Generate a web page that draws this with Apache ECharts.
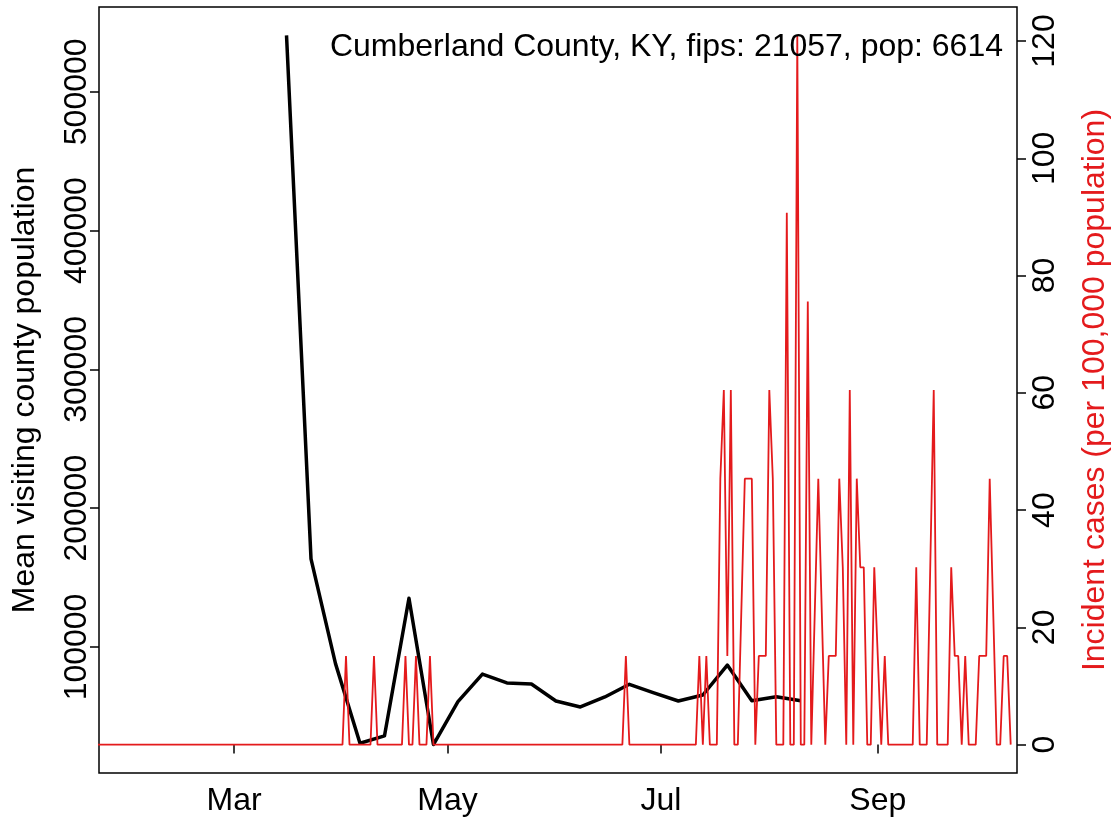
<!DOCTYPE html>
<html>
<head>
<meta charset="utf-8">
<script src="https://cdn.jsdelivr.net/npm/echarts@6/dist/echarts.min.js"></script>
<style>
  html, body { margin: 0; padding: 0; background: #fff; }
  #chart { width: 1119px; height: 822px; }
</style>
</head>
<body>
<div id="chart"></div>
<script>
// weekly mean visiting county population
var visitDates = ['2020-03-16', '2020-03-23', '2020-03-30', '2020-04-06', '2020-04-13', '2020-04-20',
  '2020-04-27', '2020-05-04', '2020-05-11', '2020-05-18', '2020-05-25', '2020-06-01', '2020-06-08',
  '2020-06-15', '2020-06-22', '2020-06-29', '2020-07-06', '2020-07-13', '2020-07-20', '2020-07-27',
  '2020-08-03', '2020-08-10'];
var visitValues = [540600, 163500, 88000, 30600, 35900, 135100, 29700, 60600, 80500, 74100, 73300,
  61100, 56800, 64000, 73100, 66900, 61100, 65400, 87000, 61300, 64200, 61300];

// daily incident cases per 100,000, starting 2020-01-22 (null = no record for that day)
var casesStart = '2020-01-22';
var casesJan = [0, 0, 0, 0, 0, 0, 0, 0, 0, 0];
var casesFeb = [0, 0, 0, 0, 0, 0, 0, 0, 0, 0, 0, 0, 0, 0, 0, 0, 0, 0, 0, 0, 0, 0, 0, 0, 0, 0, 0, 0, 0];
var casesMar = [0, 0, 0, 0, 0, 0, 0, 0, 0, 0, 0, 0, 0, 0, 0, 0, 0, 0, 0, 0, 0, 0, 0, 0, 0, 0, 0, 0, 0, 0, 0];
var casesApr = [0, 15.12, 0, 0, 0, 0, 0, 0, 0, 15.12, 0, 0, 0, 0, 0, 0, 0, 0, 15.12, 0,
  0, 15.12, 0, 0, 0, 15.12, 0, 0, 0, 0];
var casesMay = [0, 0, 0, 0, 0, 0, 0, 0, 0, 0, 0, 0, 0, 0, 0, 0, 0, 0, 0, 0, 0, 0, 0, 0, 0, 0, 0, 0, 0, 0, 0];
var casesJun = [0, 0, 0, 0, 0, 0, 0, 0, 0, 0, 0, 0, 0, 0, 0, 0, 0, 0, 0, 0, 15.12, 0, 0, 0, 0, 0, 0, 0, 0, 0];
var casesJul = [0, 0, 0, 0, 0, 0, 0, 0, 0, 0, 0, 15.12, 0, 15.12, 0, 0, 0, 45.36, 60.48, 15.12,
  60.48, 0, 0, null, 45.36, 45.36, 45.36, 0, 15.12, 15.12, 15.12];
var casesAug = [60.48, 45.36, 0, 0, 0, 90.71, 0, 0, 120.95, 0, 0, 75.59, 0, null, 45.36, null, 0,
  15.12, 15.12, 15.12, 45.36, 30.24, 0, 60.48, 0, 45.36, 30.24, 30.24, 0, 0, 30.24];
var casesSep = [null, 0, 15.12, 0, 0, 0, 0, 0, 0, 0, 0, 30.24, 0, 0, 0, null, 60.48, 0, 0, 0, 0,
  30.24, 15.12, 15.12, 0, 15.12, 0, 0, 0, 15.12];
var casesOct = [15.12, 15.12, 45.36, null, 0, 0, 15.12, 15.12, 0];

var monthTicks = ['2020-03-01', '2020-05-01', '2020-07-01', '2020-09-01'];
var monthNames = ['Jan', 'Feb', 'Mar', 'Apr', 'May', 'Jun', 'Jul', 'Aug', 'Sep', 'Oct', 'Nov', 'Dec'];
var visitTicks = [100000, 200000, 300000, 400000, 500000];
var casesTicks = [0, 20, 40, 60, 80, 100, 120];

var xRange = ['2020-01-22T09:36:00Z', '2020-10-10T19:12:00Z'];
var visitRange = [9200, 561100];
var casesRange = [-4.84, 125.8];

var red = '#e41a1c';
var font = "'Liberation Sans', Arial, sans-serif";

function ts(s) { return new Date(s.length === 10 ? s + 'T00:00:00Z' : s).getTime(); }

var casesValues = [].concat(casesJan, casesFeb, casesMar, casesApr, casesMay, casesJun,
  casesJul, casesAug, casesSep, casesOct);
var t0 = ts(casesStart);
var casesData = casesValues.map(function(v, i) { return [t0 + i * 86400000, v]; });
var visitData = visitDates.map(function(d, i) { return [ts(d), visitValues[i]]; });
var tickTimes = monthTicks.map(ts);

var chart = echarts.init(document.getElementById('chart'), null, { renderer: 'canvas' });
chart.setOption({
  animation: false,
  backgroundColor: '#fff',
  textStyle: { fontFamily: font },
  title: {
    text: 'Cumberland County, KY, fips: 21057, pop: 6614',
    right: 116,
    top: 31,
    padding: 0,
    textStyle: { fontFamily: font, fontSize: 32, fontWeight: 'normal', color: '#000' }
  },
  grid: { left: 99, right: 98, top: 7, bottom: 49, show: true, borderColor: '#000', borderWidth: 1.5, containLabel: false },
  xAxis: {
    type: 'value',
    min: ts(xRange[0]),
    max: ts(xRange[1]),
    splitLine: { show: false },
    axisLine: { show: false },
    axisTick: { show: true, customValues: tickTimes, length: 9, lineStyle: { color: '#000', width: 1.5 } },
    axisLabel: {
      customValues: tickTimes,
      color: '#000', fontSize: 32, fontFamily: font, margin: 12,
      formatter: function(v) { return monthNames[new Date(v).getUTCMonth()]; }
    }
  },
  yAxis: [
    {
      type: 'value',
      position: 'left',
      min: visitRange[0],
      max: visitRange[1],
      name: 'Mean visiting county population',
      nameLocation: 'middle',
      nameRotate: 90,
      nameGap: 58,
      nameTextStyle: { color: '#000', fontSize: 32, fontFamily: font },
      splitLine: { show: false },
      axisLine: { show: false },
      axisTick: { show: true, customValues: visitTicks, length: 9, lineStyle: { color: '#000', width: 1.5 } },
      axisLabel: {
        customValues: visitTicks, rotate: 90, margin: 6,
        color: '#000', fontSize: 32, fontFamily: font,
        formatter: function(v) { return String(v); }
      }
    },
    {
      type: 'value',
      position: 'right',
      min: casesRange[0],
      max: casesRange[1],
      name: 'Incident cases (per 100,000 population)',
      nameLocation: 'middle',
      nameRotate: 90,
      nameGap: 62,
      nameTextStyle: { color: red, fontSize: 32, fontFamily: font },
      splitLine: { show: false },
      axisLine: { show: false },
      axisTick: { show: true, customValues: casesTicks, length: 9, lineStyle: { color: '#000', width: 1.5 } },
      axisLabel: {
        customValues: casesTicks, rotate: 90, margin: 12,
        color: '#000', fontSize: 32, fontFamily: font,
        formatter: function(v) { return String(v); }
      }
    }
  ],
  series: [
    {
      type: 'line',
      name: 'visiting',
      yAxisIndex: 0,
      data: visitData,
      showSymbol: false,
      symbol: 'none',
      lineStyle: { color: '#000', width: 3.5, join: 'round' },
      z: 2
    },
    {
      type: 'line',
      name: 'cases',
      yAxisIndex: 1,
      data: casesData,
      showSymbol: false,
      symbol: 'none',
      connectNulls: true,
      lineStyle: { color: red, width: 1.8 },
      z: 3
    }
  ]
});
window.addEventListener('resize', function() { chart.resize(); });
</script>
</body>
</html>
